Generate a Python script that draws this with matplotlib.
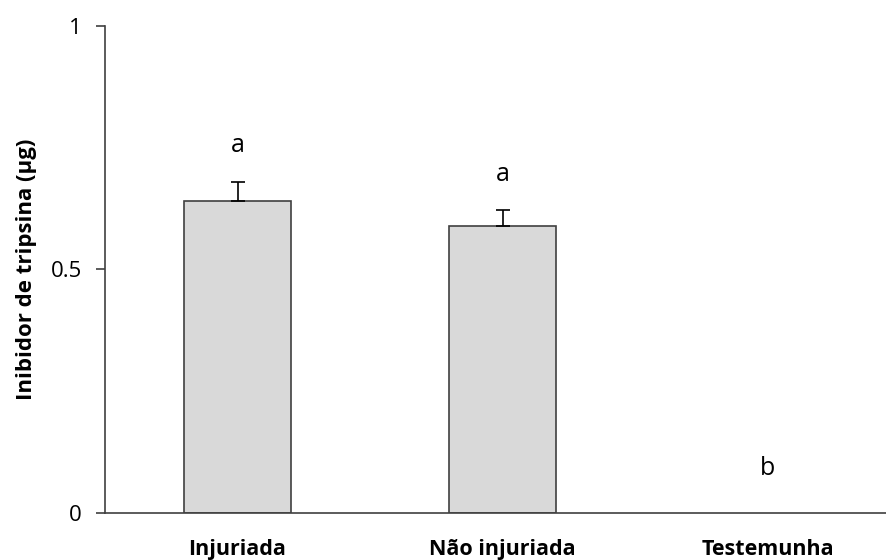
import matplotlib
matplotlib.use('Agg')
import matplotlib.pyplot as plt

categories = ['Injuriada', 'Não injuriada', 'Testemunha']
means = [0.64, 0.59, 0.0]
errors = [0.04, 0.031, 0.0]
letters = ['a', 'a', 'b']
letter_y = [0.755, 0.694, 0.092]

plt.rcParams['font.family'] = ['Open Sans', 'DejaVu Sans']

fig = plt.figure(figsize=(8.87, 5.6), dpi=100)
ax = fig.add_axes([0.1184, 0.0839, 0.8816, 0.870])

x = range(len(categories))
bars = [i for i in x if means[i] > 0]
ax.bar(bars, [means[i] for i in bars], width=0.405,
       color='#d9d9d9', edgecolor='#404040', linewidth=1.2)
ax.errorbar(bars, [means[i] for i in bars],
            yerr=[[0 for i in bars], [errors[i] for i in bars]],
            fmt='none', ecolor='black', elinewidth=1.2, capsize=5, capthick=1.2)

for i in x:
    ax.text(i, letter_y[i], letters[i], ha='center', va='center', fontsize=18)

ax.set_xlim(-0.5, 2.45)
ax.set_ylim(0, 1)
ax.set_yticks([0, 0.5, 1])
ax.set_yticklabels(['0', '0.5', '1'], fontsize=16)
ax.set_xticks(list(x))
ax.set_xticklabels(categories, fontsize=15.5, fontweight='bold')
ax.tick_params(axis='x', length=0, pad=19)
ax.tick_params(axis='y', length=6.5, width=1.2, color='#404040', pad=10)
ax.set_ylabel('Inibidor de tripsina (µg)', fontsize=16, fontweight='bold', labelpad=10)

for s in ['top', 'right']:
    ax.spines[s].set_visible(False)
for s in ['left', 'bottom']:
    ax.spines[s].set_color('#404040')
    ax.spines[s].set_linewidth(1.2)

fig.savefig('out.png', dpi=100)
